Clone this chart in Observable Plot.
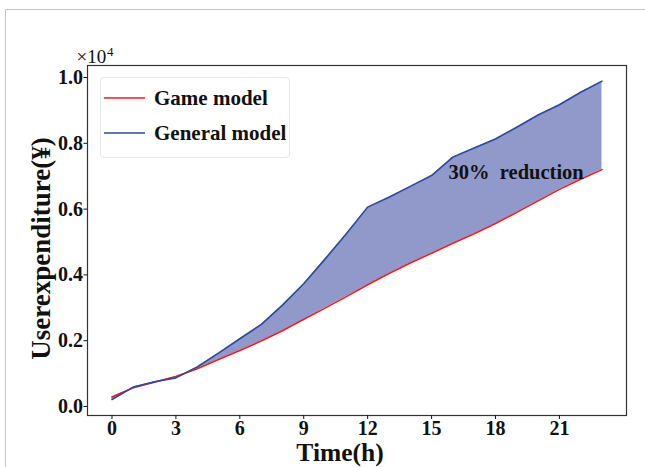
<!DOCTYPE html>
<html>
<head>
<meta charset="utf-8">
<script src="https://cdn.jsdelivr.net/npm/d3@7"></script>
<script src="https://cdn.jsdelivr.net/npm/@observablehq/plot@0.6"></script>
<style>
  html, body { margin: 0; padding: 0; background: #fff; }
  #wrap { position: relative; width: 645px; height: 467px; overflow: hidden; }
  #border { position: absolute; left: 5px; top: 9px; width: 660px; height: 480px;
            border-top: 1.5px solid #c4c4c4; border-left: 1.5px solid #c4c4c4; }
  #legend { position: absolute; left: 100px; top: 77px; width: 188px; height: 79px;
            border: 1px solid #e6e6e6; border-radius: 4px; background: rgba(255,255,255,0.85);
            font-family: "Liberation Serif", serif; font-weight: bold; font-size: 21px; color: #111; }
  .item { position: absolute; left: 3px; height: 22px; display: flex; align-items: center; white-space: nowrap; }
  .item svg { margin-right: 9px; }
</style>
</head>
<body>
<div id="wrap">
  <div id="border"></div>
</div>
<script>
// ---- data ----
const hours = [0,1,2,3,4,5,6,7,8,9,10,11,12,13,14,15,16,17,18,19,20,21,22,23];
const gameModel = [290,570,740,910,1150,1430,1700,1990,2300,2650,2990,3340,3700,4040,4360,4660,4960,5250,5560,5900,6250,6600,6910,7200];
const generalModel = [213,590,750,870,1200,1620,2060,2490,3080,3730,4480,5250,6060,6360,6690,7020,7580,7860,8130,8490,8860,9170,9550,9890];
const xTicks = [0,3,6,9,12,15,18,21];
const yTicks = [0,2000,4000,6000,8000,10000];
const seriesNames = ["Game model", "General model"];
const seriesColors = ["#ee1c1c", "#2b4c9c"];
const fillColor = "#9199cb";
const annotation = {label: "30%\u00a0\u00a0reduction", x: 15.8, y: 6930};

const rows = hours.map((h, i) => ({h, game: gameModel[i], general: generalModel[i]}));

const chart = Plot.plot({
  width: 645,
  height: 467,
  marginLeft: 87,
  marginRight: 19,
  marginTop: 65,
  marginBottom: 52,
  style: {fontFamily: "Liberation Serif, serif", fontSize: "20px", fontWeight: "bold", color: "#111", background: "transparent"},
  x: {domain: [-1.15, 24.15]},
  y: {domain: [-274, 10365]},
  marks: [
    Plot.areaY(rows, {x: "h", y1: "game", y2: "general", fill: fillColor}),
    Plot.lineY(rows, {x: "h", y: "game", stroke: seriesColors[0], strokeWidth: 1.6}),
    Plot.lineY(rows, {x: "h", y: "general", stroke: seriesColors[1], strokeWidth: 1.6}),
    Plot.frame({stroke: "#333", strokeWidth: 1.2}),
    Plot.axisX({ticks: xTicks, tickSize: 4, tickPadding: 1, label: null, tickFormat: d => String(d)}),
    Plot.axisY({ticks: yTicks, tickSize: 3.5, tickPadding: 1, label: null, tickFormat: d => (d / 10000).toFixed(1)}),
    Plot.text([annotation], {x: "x", y: "y", text: "label", textAnchor: "start", lineAnchor: "bottom", fontSize: 20.5, fontWeight: "bold", fill: "#111"}),
    Plot.text(["Userexpenditure(¥)"], {frameAnchor: "left", textAnchor: "middle", lineAnchor: "middle", dx: -46, dy: 8, rotate: -90, fontSize: 27, fontWeight: "bold", fill: "#111"}),
    Plot.text(["Time(h)"], {frameAnchor: "bottom", textAnchor: "middle", lineAnchor: "middle", dx: -17, dy: 37, fontSize: 25.5, fontWeight: "bold", fill: "#111"}),
    Plot.text(["×10"], {frameAnchor: "top-left", dx: -11, dy: -9, textAnchor: "start", lineAnchor: "middle", fontSize: 19, fontWeight: "normal", fill: "#111"}),
    Plot.text(["4"], {frameAnchor: "top-left", dx: 19.5, dy: -14, textAnchor: "start", lineAnchor: "middle", fontSize: 13, fontWeight: "normal", fill: "#111"})
  ]
});

const wrap = document.getElementById("wrap");
chart.style.position = "absolute";
chart.style.left = "0px";
chart.style.top = "0px";
wrap.appendChild(chart);

// legend
const legend = document.createElement("div");
legend.id = "legend";
seriesNames.forEach((name, i) => {
  const item = document.createElement("div");
  item.className = "item";
  item.style.top = (i === 0 ? 9 : 44) + "px";
  item.innerHTML = `<svg width="41" height="4"><line x1="0" x2="41" y1="2" y2="2" stroke="${seriesColors[i]}" stroke-width="1.6"/></svg><span>${name}</span>`;
  legend.appendChild(item);
});
wrap.appendChild(legend);
</script>
</body>
</html>
